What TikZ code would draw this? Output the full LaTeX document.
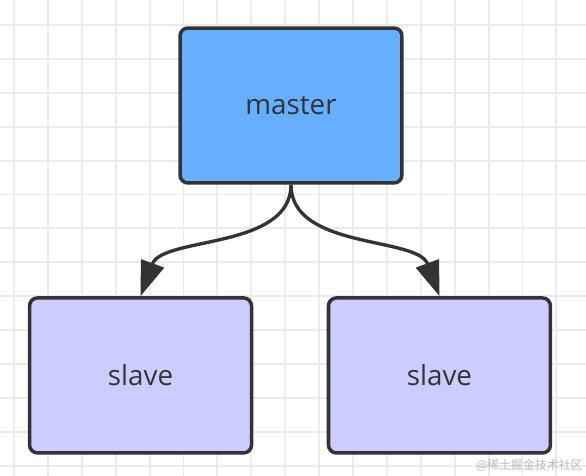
\documentclass[tikz,border=0pt]{standalone}
\usepackage{fontspec}
\setmainfont{Open Sans}
\newfontfamily\cjkfont{Noto Sans CJK SC}
\usepackage{xcolor}
\usepackage{tikz}
\usetikzlibrary{shapes,arrows.meta}
\definecolor{masterblue}{HTML}{66AFFF}
\definecolor{slavepurple}{HTML}{CCCCFF}
\definecolor{edgegray}{HTML}{333333}
\definecolor{gridgray}{HTML}{EBEBEB}
\tikzstyle{block} = [draw=edgegray, line width=2pt, rectangle, rounded corners=4.5pt,
minimum height=3.1cm, minimum width=4.44cm, text centered, text=edgegray,
font=\fontsize{15.8}{18}\selectfont]
\tikzstyle{arrow} = [draw=edgegray, line width=1.9pt, -{Triangle[length=0.7cm, width=0.48cm]}]
\tikzstyle{gridline} = [draw=gridgray, line width=1.1pt]

\begin{document}
\begin{tikzpicture}[x=0.02cm, y=-0.02cm, node distance=5.4cm]
\useasboundingbox (0,0) rectangle (586,476);

% Place grid
\foreach \gx in {0,...,16} \draw [gridline] ({14+33.9*\gx},0) -- ({14+33.9*\gx},476);
\foreach \gy in {0,...,13} \draw [gridline] (0,{25+33.9*\gy}) -- (586,{25+33.9*\gy});

% Place nodes
\node [block, fill=masterblue] (master) at (291,105.5) {master};
\node [block, fill=slavepurple, below of=master, xshift=-3.01cm] (slaveleft) {slave};
\node [block, fill=slavepurple, below of=master, xshift=2.97cm] (slaveright) {slave};
\node [text=gray!55, font=\cjkfont\fontsize{6.8}{8}\selectfont, anchor=south east, inner sep=0pt] (mark) at (583,472) {@稀土掘金技术社区};

% Place lines
\draw [arrow] (master.south) .. controls +(0,65) and +(22,-60) .. (slaveleft.north);
\draw [arrow] (master.south) .. controls +(0,65) and +(-22,-60) .. (slaveright.north);

\end{tikzpicture}
\end{document}
